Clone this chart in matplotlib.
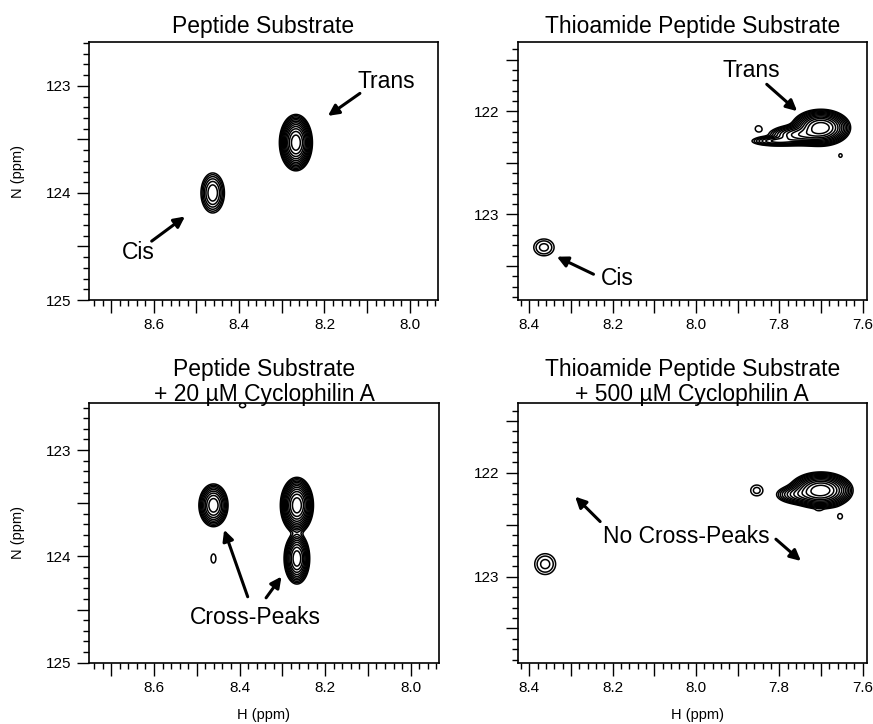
import numpy as np
import matplotlib
matplotlib.use("Agg")
import matplotlib.pyplot as plt
from matplotlib.ticker import MultipleLocator, FuncFormatter

plt.rcParams['font.family'] = ['Liberation Sans', 'DejaVu Sans']

# peak lists: H shift, N shift, H width, N width, height
pep_h = [8.462, 8.267]
pep_n = [124.00, 123.53]
pep_wh = [0.0125, 0.0125]
pep_wn = [0.085, 0.085]
pep_amp = [0.092, 1.0]

thio_h = [7.700, 7.748, 7.805, 7.850, 7.653, 8.365]
thio_n = [122.16, 122.23, 122.29, 122.17, 122.43, 123.32]
thio_wh = [0.024, 0.030, 0.028, 0.012, 0.008, 0.018]
thio_wn = [0.060, 0.040, 0.022, 0.045, 0.035, 0.060]
thio_amp = [1.0, 0.30, 0.12, 0.0145, 0.0135, 0.030]

pep_cyp_h = [8.461, 8.266, 8.266, 8.461, 8.393]
pep_cyp_n = [123.52, 123.52, 124.02, 124.02, 122.58]
pep_cyp_wh = [0.0127, 0.0125, 0.0106, 0.008, 0.010]
pep_cyp_wn = [0.075, 0.085, 0.085, 0.060, 0.030]
pep_cyp_amp = [0.30, 1.0, 0.45, 0.0105, 0.0105]

thio_cyp_h = [7.700, 7.750, 7.705, 7.854, 7.654, 8.362]
thio_cyp_n = [122.17, 122.21, 122.36, 122.17, 122.42, 122.88]
thio_cyp_wh = [0.026, 0.025, 0.008, 0.014, 0.010, 0.0185]
thio_cyp_wn = [0.060, 0.040, 0.012, 0.050, 0.045, 0.074]
thio_cyp_amp = [1.0, 0.15, 0.008, 0.0205, 0.014, 0.030]

titles = ["Peptide Substrate", "Thioamide Peptide Substrate",
          "Peptide Substrate\n+ 20 µM Cyclophilin A",
          "Thioamide Peptide Substrate\n+ 500 µM Cyclophilin A"]


def spectrum(ax, hs, ns, whs, wns, amps, base, factor):
    x0, x1 = ax.get_xlim()
    y0, y1 = ax.get_ylim()
    H, N = np.meshgrid(np.linspace(x0, x1, 900), np.linspace(y0, y1, 900))
    Z = np.zeros_like(H)
    for h, n, wh, wn, a in zip(hs, ns, whs, wns, amps):
        Z += a * np.exp(-0.5 * (((H - h) / wh) ** 2 + ((N - n) / wn) ** 2))
    levels = base * factor ** np.arange(40)
    levels = levels[levels < Z.max()]
    ax.contour(H, N, Z, levels=levels, colors='k', linewidths=1.1)


def style_axes(ax, xlim, ylim):
    ax.set_xlim(*xlim)
    ax.set_ylim(*ylim)
    ax.xaxis.set_major_locator(MultipleLocator(0.1))
    ax.xaxis.set_minor_locator(MultipleLocator(0.02))
    ax.xaxis.set_major_formatter(FuncFormatter(
        lambda v, p: "%.1f" % v if round(v * 10) % 2 == 0 else ""))
    ax.yaxis.set_major_locator(MultipleLocator(0.5))
    ax.yaxis.set_minor_locator(MultipleLocator(0.1))
    ax.yaxis.set_major_formatter(FuncFormatter(
        lambda v, p: "%d" % round(v) if abs(v - round(v)) < 1e-6 else ""))
    ax.tick_params(which='major', direction='out', length=9, width=1,
                   labelsize=11, pad=4)
    ax.tick_params(which='minor', direction='out', length=4.5, width=1)
    for s in ax.spines.values():
        s.set_linewidth(1.2)


def arrow(ax, start, end):
    ax.annotate('', xy=end, xytext=start,
                arrowprops=dict(arrowstyle='-|>', color='k', lw=2.2,
                                mutation_scale=16, shrinkA=0, shrinkB=0))


fig = plt.figure(figsize=(8.73, 7.24), dpi=100)
ax1 = fig.add_axes([0.1019, 0.5856, 0.3998, 0.3564])
ax2 = fig.add_axes([0.5930, 0.5856, 0.3998, 0.3564])
ax3 = fig.add_axes([0.1019, 0.0847, 0.4009, 0.3583])
ax4 = fig.add_axes([0.5930, 0.0847, 0.3998, 0.3583])

style_axes(ax1, (8.752, 7.934), (125.0, 122.59))
style_axes(ax2, (8.428, 7.590), (123.83, 121.33))
style_axes(ax3, (8.752, 7.934), (125.0, 122.56))
style_axes(ax4, (8.428, 7.590), (123.83, 121.33))

spectrum(ax1, pep_h, pep_n, pep_wh, pep_wn, pep_amp, 0.0082, 1.5)
spectrum(ax2, thio_h, thio_n, thio_wh, thio_wn, thio_amp, 0.012, 1.45)
spectrum(ax3, pep_cyp_h, pep_cyp_n, pep_cyp_wh, pep_cyp_wn, pep_cyp_amp, 0.0082, 1.5)
spectrum(ax4, thio_cyp_h, thio_cyp_n, thio_cyp_wh, thio_cyp_wn, thio_cyp_amp, 0.012, 1.45)

# titles (baseline of the last line)
ax1.text(0.5, 1.035, titles[0], transform=ax1.transAxes, ha='center', va='baseline', fontsize=16.5)
ax2.text(0.5, 1.035, titles[1], transform=ax2.transAxes, ha='center', va='baseline', fontsize=16.5)
ax3.text(0.5, 1.009, titles[2], transform=ax3.transAxes, ha='center', va='baseline',
         fontsize=16.5, linespacing=1.1)
ax4.text(0.5, 1.009, titles[3], transform=ax4.transAxes, ha='center', va='baseline',
         fontsize=16.5, linespacing=1.1)

# axis labels
for ax in (ax1, ax3):
    ax.text(-0.2035, 0.5, "N (ppm)", transform=ax.transAxes, rotation=90,
            ha='center', va='center', fontsize=10.5)
ax3.text(0.5, -0.2016, "H (ppm)", transform=ax3.transAxes, ha='center', va='center', fontsize=10.5)
ax4.text(0.515, -0.2016, "H (ppm)", transform=ax4.transAxes, ha='center', va='center', fontsize=10.5)

# annotations
ax1.text(8.056, 122.96, "Trans", ha='center', va='center', fontsize=16.5)
arrow(ax1, (8.117, 123.07), (8.192, 123.28))
ax1.text(8.637, 124.56, "Cis", ha='center', va='center', fontsize=16.5)
arrow(ax1, (8.605, 124.45), (8.527, 124.22))

ax2.text(7.866, 121.61, "Trans", ha='center', va='center', fontsize=16.5)
arrow(ax2, (7.830, 121.74), (7.757, 122.00))
ax2.text(8.188, 123.62, "Cis", ha='center', va='center', fontsize=16.5)
arrow(ax2, (8.246, 123.58), (8.334, 123.41))

ax3.text(8.363, 124.575, "Cross-Peaks", ha='center', va='center', fontsize=16.5)
arrow(ax3, (8.381, 124.38), (8.436, 123.75))
arrow(ax3, (8.338, 124.39), (8.302, 124.19))

ax4.text(8.022, 122.61, "No Cross-Peaks", ha='center', va='center', fontsize=16.5)
arrow(ax4, (8.230, 122.47), (8.290, 122.23))
arrow(ax4, (7.808, 122.64), (7.748, 122.85))

fig.savefig("out.png", dpi=100)
